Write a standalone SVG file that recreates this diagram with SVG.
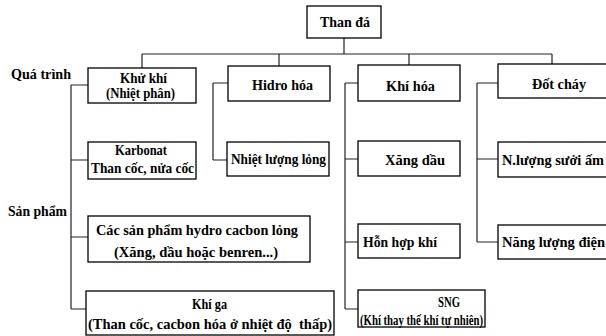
<svg xmlns="http://www.w3.org/2000/svg" width="606" height="336" viewBox="0 0 606 336">
<style>
.b{fill:#fff;stroke:#000;stroke-width:1.3}
.c{fill:none;stroke:#222;stroke-width:1.2}
text{font-family:"Liberation Serif","Times New Roman",serif;font-weight:bold;font-size:14px;fill:#000}
</style>
<rect width="606" height="336" fill="#fff"/>
<g id="connectors">
<path class="c" d="M344,38V54M142,54H552M142,54V68M279,54V66M409,54V65M552,54V64"/>
<path class="c" d="M71,85V309M71,85H88M71,160H88M71,237H88M71,309H86"/>
<path class="c" d="M213,83V160M213,83H228M213,160H227"/>
<path class="c" d="M345,83V309M345,83H358M345,159H358M345,242H358M345,309H358"/>
<path class="c" d="M477,83V242M477,83H498M477,159H498M477,242H498"/>
</g>
<g id="lbl-quatrinh"><text x="11" y="78.5" textLength="60" lengthAdjust="spacingAndGlyphs">Quá trình</text></g>
<g id="lbl-sanpham"><text x="8" y="216" textLength="59" lengthAdjust="spacingAndGlyphs">Sản phẩm</text></g>
<g id="than-da"><rect class="b" x="307" y="6" width="74" height="32"/><text x="320" y="26.5" textLength="50" lengthAdjust="spacingAndGlyphs">Than đá</text></g>
<g id="khu-khi"><rect class="b" x="88" y="68" width="108" height="35"/><text x="120" y="83" textLength="47" lengthAdjust="spacingAndGlyphs">Khử khí</text><text x="106" y="97.5" textLength="69" lengthAdjust="spacingAndGlyphs">(Nhiệt phân)</text></g>
<g id="hidro-hoa"><rect class="b" x="228" y="66" width="102" height="35"/><text x="252" y="90" textLength="61" lengthAdjust="spacingAndGlyphs">Hidro hóa</text></g>
<g id="khi-hoa"><rect class="b" x="358" y="65" width="102" height="36"/><text x="386" y="90.5" textLength="49" lengthAdjust="spacingAndGlyphs">Khí hóa</text></g>
<g id="dot-chay"><rect class="b" x="498" y="64" width="120" height="34"/><text x="532" y="89" textLength="54" lengthAdjust="spacingAndGlyphs">Đốt cháy</text></g>
<g id="karbonat"><rect class="b" x="88" y="142" width="108" height="37"/><text x="115" y="154.5" textLength="52" lengthAdjust="spacingAndGlyphs">Karbonat</text><text x="91" y="173" textLength="103" lengthAdjust="spacingAndGlyphs">Than cốc, nửa cốc</text></g>
<g id="nhiet-luong-long"><rect class="b" x="227" y="142" width="102" height="34"/><text x="231" y="164" textLength="95" lengthAdjust="spacingAndGlyphs">Nhiệt lượng lỏng</text></g>
<g id="xang-dau"><rect class="b" x="358" y="141" width="102" height="35"/><text x="385" y="165" textLength="60" lengthAdjust="spacingAndGlyphs">Xăng dầu</text></g>
<g id="n-luong-suoi-am"><rect class="b" x="498" y="142" width="120" height="35"/><text x="502" y="165" textLength="102" lengthAdjust="spacingAndGlyphs">N.lượng sưởi ấm</text></g>
<g id="cac-san-pham"><rect class="b" x="88" y="216" width="222" height="46"/><text x="96" y="235" textLength="202" lengthAdjust="spacingAndGlyphs">Các sản phẩm hydro cacbon lỏng</text><text x="114" y="257" textLength="164" lengthAdjust="spacingAndGlyphs">(Xăng, dầu hoặc benren...)</text></g>
<g id="hon-hop-khi"><rect class="b" x="358" y="224" width="102" height="34"/><text x="363" y="246.5" textLength="74" lengthAdjust="spacingAndGlyphs">Hỗn hợp khí</text></g>
<g id="nang-luong-dien"><rect class="b" x="498" y="225" width="120" height="34"/><text x="502" y="247" textLength="103" lengthAdjust="spacingAndGlyphs">Năng lượng điện</text></g>
<g id="khi-ga"><rect class="b" x="86" y="291" width="248" height="44"/><text x="192" y="309" textLength="35" lengthAdjust="spacingAndGlyphs">Khí ga</text><text x="88" y="328.5" textLength="244" lengthAdjust="spacingAndGlyphs" xml:space="preserve">(Than cốc, cacbon hóa ở nhiệt độ  thấp)</text></g>
<g id="sng"><rect class="b" x="358" y="290" width="127" height="37"/><text x="438" y="307" textLength="22" lengthAdjust="spacingAndGlyphs">SNG</text><text x="360" y="325" textLength="123" lengthAdjust="spacingAndGlyphs">(Khí thay thế khí tự nhiên)</text></g>
</svg>
